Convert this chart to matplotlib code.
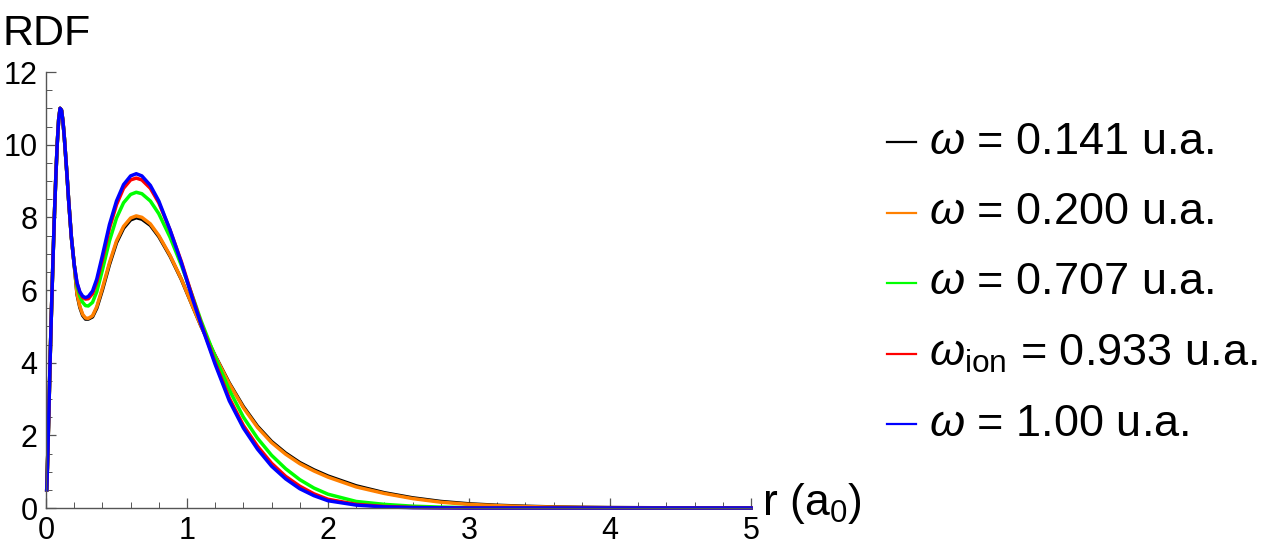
import matplotlib
matplotlib.use("Agg")
import matplotlib.pyplot as plt
from matplotlib.lines import Line2D
from matplotlib.ticker import MultipleLocator

plt.rcParams['font.family'] = ['Liberation Sans', 'DejaVu Sans']
plt.rcParams['mathtext.fontset'] = 'custom'
plt.rcParams['mathtext.rm'] = 'Liberation Sans'
plt.rcParams['mathtext.it'] = 'Liberation Sans:italic'

# common part near the nucleus (curves overlap there)
r_head = [0.005, 0.01, 0.02, 0.03, 0.04, 0.05, 0.06, 0.07, 0.08, 0.09, 0.10,
          0.11, 0.12, 0.13, 0.14, 0.15, 0.16, 0.18, 0.20]
rdf_head = [0.5, 1.1, 2.6, 4.2, 5.6, 6.9, 8.1, 9.15, 10.05, 10.7, 11.0,
            10.95, 10.65, 10.2, 9.65, 9.1, 8.5, 7.45, 6.7]

# outer region
r_tail = [0.22, 0.24, 0.26, 0.28, 0.30, 0.33, 0.36, 0.40, 0.45, 0.50, 0.55,
          0.60, 0.64, 0.68, 0.74, 0.80, 0.88, 0.96, 1.04, 1.10, 1.20, 1.30,
          1.40, 1.50, 1.60, 1.70, 1.80, 1.90, 2.00, 2.20, 2.40, 2.60, 2.80,
          3.00, 3.20, 3.40, 3.60, 3.80, 4.00, 4.50, 5.00]

rdf_0141 = [5.88, 5.52, 5.3, 5.2, 5.2, 5.26, 5.5, 6.0, 6.7, 7.3, 7.7,
            7.93, 7.99, 7.95, 7.78, 7.47, 6.93, 6.29, 5.55, 5.0, 4.19, 3.44,
            2.79, 2.25, 1.83, 1.51, 1.25, 1.05, 0.88, 0.61, 0.42, 0.28, 0.18,
            0.115, 0.075, 0.048, 0.03, 0.019, 0.012, 0.004, 0.001]
rdf_0200 = [5.9, 5.55, 5.33, 5.23, 5.22, 5.29, 5.54, 6.05, 6.75, 7.35, 7.75,
            7.98, 8.04, 8.0, 7.82, 7.5, 6.95, 6.3, 5.55, 5.0, 4.18, 3.42,
            2.76, 2.22, 1.8, 1.48, 1.22, 1.02, 0.85, 0.58, 0.4, 0.26, 0.16,
            0.1, 0.065, 0.04, 0.025, 0.015, 0.009, 0.003, 0.001]
rdf_0707 = [6.1, 5.83, 5.66, 5.57, 5.56, 5.66, 5.95, 6.55, 7.35, 7.98, 8.4,
            8.63, 8.69, 8.65, 8.45, 8.1, 7.45, 6.68, 5.82, 5.15, 4.15, 3.25,
            2.5, 1.92, 1.45, 1.08, 0.78, 0.55, 0.38, 0.18, 0.1, 0.05, 0.025,
            0.01, 0.005, 0.002, 0.001, 0.0, 0.0, 0.0, 0.0]
rdf_0933 = [6.18, 5.93, 5.8, 5.75, 5.76, 5.9, 6.22, 6.85, 7.7, 8.35, 8.8,
            9.03, 9.08, 9.03, 8.8, 8.4, 7.65, 6.78, 5.8, 5.08, 4.0, 3.02,
            2.27, 1.7, 1.23, 0.87, 0.6, 0.39, 0.24, 0.1, 0.04, 0.015, 0.005,
            0.0, 0.0, 0.0, 0.0, 0.0, 0.0, 0.0, 0.0]
rdf_100 = [6.2, 5.95, 5.83, 5.79, 5.82, 5.97, 6.3, 6.95, 7.8, 8.45, 8.9,
           9.14, 9.2, 9.14, 8.88, 8.45, 7.65, 6.75, 5.75, 5.05, 3.95, 2.95,
           2.2, 1.62, 1.15, 0.8, 0.53, 0.34, 0.2, 0.08, 0.03, 0.01, 0.004,
           0.0, 0.0, 0.0, 0.0, 0.0, 0.0, 0.0, 0.0]

series = [rdf_0141, rdf_0200, rdf_0707, rdf_0933, rdf_100]
colors = ['black', '#ff8000', '#00ff00', '#ff0000', '#0000ff']
labels = [r'$\omega$ = 0.141 u.a.', r'$\omega$ = 0.200 u.a.', r'$\omega$ = 0.707 u.a.',
          r'$\omega_{\mathrm{ion}}$ = 0.933 u.a.', r'$\omega$ = 1.00 u.a.']

W, H = 1269, 553
fig = plt.figure(figsize=(W / 100, H / 100), dpi=100)
ax = fig.add_axes([46 / W, 1 - 508 / H, 705 / W, 436 / H])

r = r_head + r_tail
for vals, c in zip(series, colors):
    ax.plot(r, rdf_head + vals, color=c, lw=2.5, clip_on=False,
            solid_joinstyle='round')

ax.set_xlim(0, 5)
ax.set_ylim(0, 12)
ax.xaxis.set_major_locator(MultipleLocator(1))
ax.xaxis.set_minor_locator(MultipleLocator(0.2))
ax.yaxis.set_major_locator(MultipleLocator(2))
ax.yaxis.set_minor_locator(MultipleLocator(0.5))
for s in ['top', 'right']:
    ax.spines[s].set_visible(False)
for s in ['left', 'bottom']:
    ax.spines[s].set_color('#555555')
    ax.spines[s].set_linewidth(1.0)
ax.tick_params(which='both', direction='in', color='#555555', labelsize=22)
ax.tick_params(which='major', length=7, width=0.9)
ax.tick_params(which='minor', length=4, width=0.7)
ax.tick_params(axis='x', which='major', pad=6)
ax.tick_params(axis='y', which='major', pad=6)

fig.text(2 / W, 1 - 34 / H, 'RDF', fontsize=31, va='center', ha='left')
fig.text(762 / W, 1 - 504 / H, r'r (a$_{\mathrm{0}}$)', fontsize=32, va='center', ha='left')

# legend drawn by hand, like the original
for i, (lab, c) in enumerate(zip(labels, colors)):
    yc = 1 - (142 + 70.5 * i) / H
    fig.add_artist(Line2D([887 / W, 916 / W], [yc, yc], color=c, lw=1.6))
    fig.text(929 / W, yc, lab, fontsize=32.5, va='center', ha='left')

fig.savefig('out.png', dpi=100)
